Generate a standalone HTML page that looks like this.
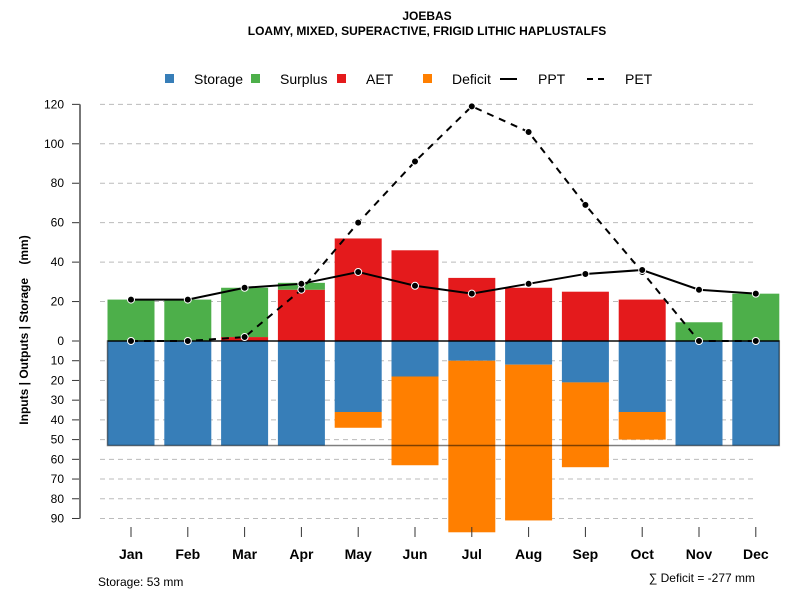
<!DOCTYPE html>
<html><head><meta charset="utf-8"><style>
body{margin:0;background:#fff;font-family:"Liberation Sans",sans-serif}
svg{display:block}
</style></head><body>
<svg id="c" width="800" height="600" xmlns="http://www.w3.org/2000/svg" font-family="Liberation Sans, sans-serif">
<text x="427" y="20" text-anchor="middle" font-size="12" font-weight="bold">JOEBAS</text>
<text x="427" y="35" text-anchor="middle" font-size="12" font-weight="bold">LOAMY, MIXED, SUPERACTIVE, FRIGID LITHIC HAPLUSTALFS</text>
<g font-size="14">
<rect x="165" y="74" width="9" height="9" fill="#377EB8"/>
<text x="194" y="84">Storage</text>
<rect x="251" y="74" width="9" height="9" fill="#4DAF4A"/>
<text x="280" y="84">Surplus</text>
<rect x="337" y="74" width="9" height="9" fill="#E41A1C"/>
<text x="366" y="84">AET</text>
<rect x="423" y="74" width="9" height="9" fill="#FF7F00"/>
<text x="452" y="84">Deficit</text>
<line x1="500" y1="79" x2="517" y2="79" stroke="#000" stroke-width="2"/>
<text x="538" y="84">PPT</text>
<line x1="587" y1="79" x2="608" y2="79" stroke="#000" stroke-width="2" stroke-dasharray="6,5"/>
<text x="625" y="84">PET</text>
</g>
<text transform="translate(28,330) rotate(-90)" text-anchor="middle" font-size="12" font-weight="bold">Inputs | Outputs | Storage&#160;&#160;&#160;&#160;(mm)</text>
<g id="grid"></g><g id="bars"></g><g id="lines"></g><g id="axes"></g>
<text x="98" y="586" font-size="12">Storage: 53 mm</text>
<text x="755" y="582" text-anchor="end" font-size="12">∑ Deficit = -277 mm</text>
</svg>
<script>
const months=["Jan","Feb","Mar","Apr","May","Jun","Jul","Aug","Sep","Oct","Nov","Dec"];
const storage=[53,53,53,53,36,18,10,12,21,36,53,53];
const deficit=[0,0,0,0,8,45,87,79,43,14,0,0];
const aet=[0,0,2,26,52,46,32,27,25,21,0,0];
const surplus=[21,21,25,3.5,0,0,0,0,0,0,9.5,24];
const ppt=[21,21,27,29,35,28,24,29,34,36,26,24];
const pet=[0,0,2,26,60,91,119,106,69,35,0,0];
const upTicks=[0,20,40,60,80,100,120];
const downTicks=[10,20,30,40,50,60,70,80,90];
const awc=53;
const NS="http://www.w3.org/2000/svg";
const y0=341,k=1.972;
function yv(v){return y0-v*k;}
function xc(i){return 131+i*56.8;}
const bw=47;
function mk(tag,attrs,parent){const e=document.createElementNS(NS,tag);for(const a in attrs)e.setAttribute(a,attrs[a]);document.getElementById(parent).appendChild(e);return e;}
upTicks.concat(downTicks.map(d=>-d)).forEach(t=>{
  if(t!==0){const g=mk('line',{x1:100,x2:757,y1:yv(t),y2:yv(t),stroke:'#bbb','stroke-dasharray':'5,4'},'grid');
  
  }
  const tk=mk('line',{x1:72,x2:80,y1:yv(t),y2:yv(t),stroke:'#333'},'axes');
  
  
  const tl=mk('text',{x:64,y:yv(t)+4,'text-anchor':'end','font-size':12},'axes');
  tl.textContent=Math.abs(t);
  
  
});
const ax=mk('line',{x1:80,x2:80,y1:yv(120),y2:yv(-90),stroke:'#777','stroke-width':2},'axes');


months.forEach((m,i)=>{
  const x=xc(i);
  const st=mk('rect',{x:x-bw/2,y:y0,width:bw,height:storage[i]*k,fill:'#377EB8'},'bars');
  
  
  if(deficit[i]>0){const d=mk('rect',{x:x-bw/2,y:y0+storage[i]*k,width:bw,height:deficit[i]*k,fill:'#FF7F00'},'bars');
  
  }
  if(aet[i]>0){const a=mk('rect',{x:x-bw/2,y:yv(aet[i]),width:bw,height:aet[i]*k,fill:'#E41A1C'},'bars');
  
  }
  if(surplus[i]>0){const s=mk('rect',{x:x-bw/2,y:yv(aet[i]+surplus[i]),width:bw,height:surplus[i]*k,fill:'#4DAF4A'},'bars');
  
  }
  const t=mk('line',{x1:x,x2:x,y1:527,y2:537,stroke:'#333'},'axes');
  
  
  const l=mk('text',{x:x,y:559,'text-anchor':'middle','font-size':14,'font-weight':'bold'},'axes');
  l.textContent=m;
  
  
});
const box=mk('rect',{x:xc(0)-bw/2,y:y0,width:xc(11)+bw/2-(xc(0)-bw/2),height:awc*k,fill:'none',stroke:'rgba(0,0,0,0.5)','stroke-width':1.5},'bars');


const zl=mk('line',{x1:xc(0)-bw/2,x2:xc(11)+bw/2,y1:y0,y2:y0,stroke:'#000','stroke-width':1.3},'bars');


function series(vals,name,dash){
  const p=mk('polyline',{points:vals.map((v,i)=>xc(i)+','+yv(v)).join(' '),fill:'none',stroke:'#000','stroke-width':2,'stroke-dasharray':dash},'lines');
  
  
  vals.forEach((v,i)=>{const c=mk('circle',{cx:xc(i),cy:yv(v),r:3.5,fill:'#000',stroke:'#fff','stroke-width':1},'lines');
  
  });
}
series(pet,'pet','7,6');
series(ppt,'ppt','none');
</script>
</body></html>
